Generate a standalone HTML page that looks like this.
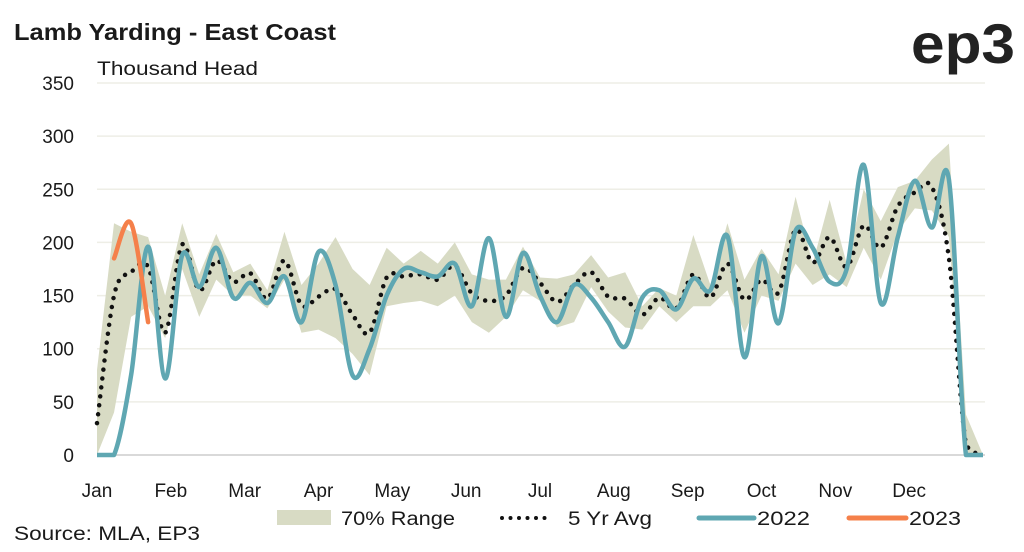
<!DOCTYPE html>
<html><head><meta charset="utf-8"><style>
html,body{margin:0;padding:0;background:#fff;}
svg{display:block;font-family:"Liberation Sans",sans-serif;}
</style></head><body>
<svg id="chart" width="1024" height="552" viewBox="0 0 1024 552" xmlns="http://www.w3.org/2000/svg">
<text x="14" y="40" font-size="23" font-weight="bold" fill="#1a1a1a" textLength="322" lengthAdjust="spacingAndGlyphs">Lamb Yarding - East Coast</text>
<text x="97" y="75" font-size="19" fill="#1a1a1a" textLength="161" lengthAdjust="spacingAndGlyphs">Thousand Head</text>
<text x="911" y="63" font-size="56" font-weight="bold" fill="#222" textLength="104" lengthAdjust="spacingAndGlyphs">ep3</text>
<g id="grid"></g>
<g id="yticks"></g>
<g id="xticks"></g>
<g id="series"></g>
<g>
<rect x="277" y="510" width="54" height="15" fill="#d8dbc4"/>
<text x="341" y="525" font-size="19" fill="#1a1a1a" textLength="114" lengthAdjust="spacingAndGlyphs">70% Range</text>
<line x1="502" y1="518" x2="553" y2="518" stroke="#111" stroke-width="4" stroke-linecap="round" stroke-dasharray="0 8.5"/>
<text x="568" y="525" font-size="19" fill="#1a1a1a" textLength="84" lengthAdjust="spacingAndGlyphs">5 Yr Avg</text>
<line x1="699" y1="518" x2="754" y2="518" stroke="#5fa7b2" stroke-width="5" stroke-linecap="round"/>
<text x="757" y="525" font-size="19" fill="#1a1a1a" textLength="53" lengthAdjust="spacingAndGlyphs">2022</text>
<line x1="849" y1="518" x2="906" y2="518" stroke="#f5804a" stroke-width="5" stroke-linecap="round"/>
<text x="909" y="525" font-size="19" fill="#1a1a1a" textLength="52" lengthAdjust="spacingAndGlyphs">2023</text>
</g>
<text x="14" y="540" font-size="19" fill="#1a1a1a" textLength="186" lengthAdjust="spacingAndGlyphs">Source: MLA, EP3</text>
</svg>
<script>
const months = ["Jan","Feb","Mar","Apr","May","Jun","Jul","Aug","Sep","Oct","Nov","Dec"];
const yTicks = [0,50,100,150,200,250,300,350];
const rangeLow = [0,40,130,140,110,175,130,165,150,150,138,165,115,118,110,95,75,140,143,145,140,150,125,115,130,155,145,120,125,158,135,120,118,140,125,140,140,155,115,150,145,180,160,170,158,195,165,210,232,230,205,0,0];
const rangeHigh = [80,218,210,205,150,218,170,208,172,180,155,210,160,180,205,175,160,195,180,192,180,200,170,165,165,196,167,166,170,188,167,172,140,157,150,207,160,218,165,194,170,243,180,240,180,250,220,252,258,278,293,38,0];
const avg5yr = [30,150,172,177,115,198,155,183,163,171,147,183,141,149,156,132,115,167,168,170,165,178,152,145,150,176,162,144,160,172,149,147,132,148,138,170,148,180,146,165,153,212,181,205,177,216,195,234,247,252,185,10,0];
const y2022 = [0,0,75,196,72,188,158,195,148,162,143,168,125,191,160,75,100,150,175,172,168,180,140,204,130,190,150,125,160,148,125,102,148,155,137,166,155,206,92,187,124,211,195,163,175,273,143,205,258,214,259,0,0];
const y2023 = [null,185,218,125];

const X0=97, X1=983, Y0=455, Y1=83, YMAX=350;
const nW = y2022.length;
function xs(i){return X0 + i*(X1-X0)/(nW-1);}
function ys(v){return Y0 - v*(Y0-Y1)/YMAX;}
const NS="http://www.w3.org/2000/svg";
function mk(tag,parent,attrs){const e=document.createElementNS(NS,tag);for(const k in attrs)e.setAttribute(k,attrs[k]);parent.appendChild(e);return e;}

const grid=document.getElementById('grid'), yt=document.getElementById('yticks'), xt=document.getElementById('xticks'), ser=document.getElementById('series');
yTicks.forEach(v=>{
  const l=mk('line',grid,{x1:X0,x2:985,y1:ys(v),y2:ys(v),stroke:v===0?'#d9d9d9':'#eeeee6','stroke-width':v===0?2:1.5});
  
  
  const t=mk('text',yt,{x:74,y:ys(v)+7,'text-anchor':'end','font-size':19,fill:'#1a1a1a'});
  t.textContent=v;
  
  
});
months.forEach((m,i)=>{
  const t=mk('text',xt,{x:X0+i*(X1-X0)/12,y:497,'text-anchor':'middle','font-size':19,fill:'#1a1a1a'});
  t.textContent=m;
  
  
});
let pts=[];
rangeHigh.forEach((v,i)=>pts.push(xs(i)+','+ys(v)));
for(let i=rangeLow.length-1;i>=0;i--)pts.push(xs(i)+','+ys(rangeLow[i]));
const band=mk('polygon',ser,{points:pts.join(' '),fill:'#d8dbc4'});



function smooth(arr){
  const p=[];arr.forEach((v,i)=>{if(v!==null)p.push([xs(i),ys(v)]);});
  const c=y=>Math.min(Y0,y);
  let d='M'+p[0][0]+','+p[0][1];
  for(let i=0;i<p.length-1;i++){
    const p0=p[i-1]||p[i],p1=p[i],p2=p[i+1],p3=p[i+2]||p2;
    const t=1/6;
    let c1y=c(p1[1]+(p2[1]-p0[1])*t), c2y=c(p2[1]-(p3[1]-p1[1])*t);
    if(p1[1]>=Y0&&p2[1]>=Y0){c1y=Y0;c2y=Y0;}
    d+=' C'+(p1[0]+(p2[0]-p0[0])*t)+','+c1y+' '+(p2[0]-(p3[0]-p1[0])*t)+','+c2y+' '+p2[0]+','+p2[1];
  }
  return d;
}
const avg=mk('path',ser,{d:smooth(avg5yr),fill:'none',stroke:'#111','stroke-width':4.5,'stroke-linecap':'round','stroke-dasharray':'0 9'});


const l22=mk('path',ser,{d:smooth(y2022),fill:'none',stroke:'#5fa7b2','stroke-width':4.5,'stroke-linejoin':'round'});


const l23=mk('path',ser,{d:smooth(y2023),fill:'none',stroke:'#f5804a','stroke-width':4.5,'stroke-linecap':'round'});


</script>
</body></html>
